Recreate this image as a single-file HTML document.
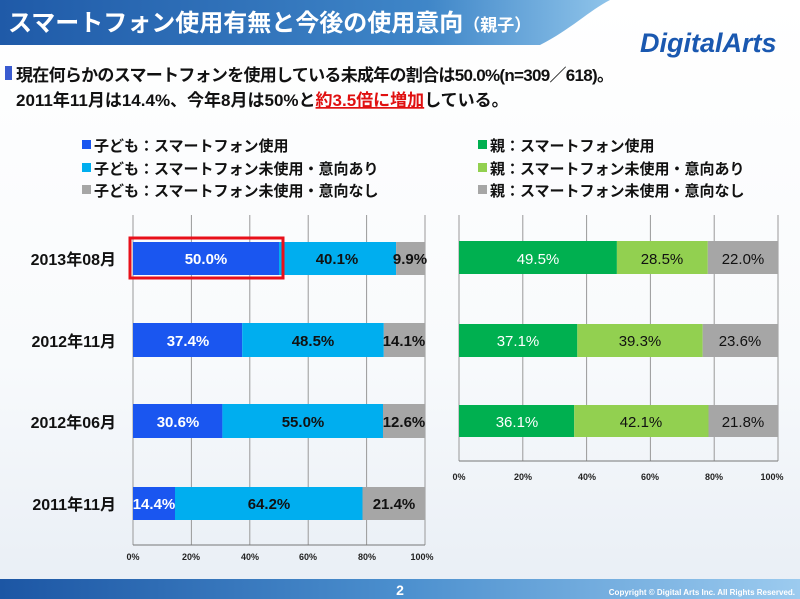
<!DOCTYPE html>
<html><head><meta charset="utf-8"><style>
body{margin:0;width:800px;height:599px;overflow:hidden;background:#fff}
svg{display:block}
text{font-family:"Liberation Sans","Noto Sans CJK JP",sans-serif}
</style></head><body>
<svg width="800" height="599" viewBox="0 0 800 599">
<defs>
<linearGradient id="hd" x1="0" x2="1" y1="0" y2="0"><stop offset="0" stop-color="#1f5aa8"/><stop offset="0.7" stop-color="#3f86c8"/><stop offset="1" stop-color="#8fc4ea"/></linearGradient>
<linearGradient id="ft" x1="0" x2="1"><stop offset="0" stop-color="#1c56a4"/><stop offset="0.5" stop-color="#4b8fce"/><stop offset="1" stop-color="#9ccbef"/></linearGradient>
<linearGradient id="bg" x1="0" x2="0" y1="0" y2="1"><stop offset="0" stop-color="#fff"/><stop offset="0.6" stop-color="#f8fafc"/><stop offset="1" stop-color="#e8eef5"/></linearGradient>
</defs>
<rect width="800" height="599" fill="url(#bg)"/>
<path d="M0 0H610C590 10 570 30 540 45H0Z" fill="url(#hd)"/>
<text x="8" y="31" font-size="24" font-weight="bold" fill="#fff">スマートフォン使用有無と今後の使用意向<tspan font-size="17">（親子）</tspan></text>
<text x="640" y="52" font-size="27" font-weight="bold" font-style="italic" fill="#1a58b0">DigitalArts</text>
<rect x="5" y="66" width="7" height="14" fill="#3a5bd0"/>
<text x="16" y="81" font-size="17" font-weight="bold" fill="#111" textLength="598">現在何らかのスマートフォンを使用している未成年の割合は50.0%(n=309／618)。</text>
<text x="16" y="106" font-size="17" font-weight="bold" fill="#111">2011年11月は14.4%、今年8月は50%と<tspan fill="#e01010" text-decoration="underline">約3.5倍に増加</tspan>している。</text>
<!-- legends -->
<g font-size="15" font-weight="bold" fill="#111">
<rect x="82" y="140" width="9" height="9" fill="#1a56f0"/><text x="94" y="151">子ども：スマートフォン使用</text>
<rect x="82" y="163" width="9" height="9" fill="#00aeef"/><text x="94" y="174">子ども：スマートフォン未使用・意向あり</text>
<rect x="82" y="185" width="9" height="9" fill="#a6a6a6"/><text x="94" y="196">子ども：スマートフォン未使用・意向なし</text>
<rect x="478" y="140" width="9" height="9" fill="#00b050"/><text x="490" y="151">親：スマートフォン使用</text>
<rect x="478" y="163" width="9" height="9" fill="#92d050"/><text x="490" y="174">親：スマートフォン未使用・意向あり</text>
<rect x="478" y="185" width="9" height="9" fill="#a6a6a6"/><text x="490" y="196">親：スマートフォン未使用・意向なし</text>
</g>
<g stroke="#999" stroke-width="1">
<line x1="133" y1="215" x2="133" y2="545"/><line x1="191.4" y1="215" x2="191.4" y2="545"/><line x1="249.8" y1="215" x2="249.8" y2="545"/><line x1="308.2" y1="215" x2="308.2" y2="545"/><line x1="366.6" y1="215" x2="366.6" y2="545"/><line x1="425" y1="215" x2="425" y2="545"/>
<line x1="133" y1="545" x2="425" y2="545" stroke="#777"/>
<line x1="459" y1="215" x2="459" y2="461"/><line x1="522.8" y1="215" x2="522.8" y2="461"/><line x1="586.6" y1="215" x2="586.6" y2="461"/><line x1="650.4" y1="215" x2="650.4" y2="461"/><line x1="714.2" y1="215" x2="714.2" y2="461"/><line x1="778" y1="215" x2="778" y2="461"/>
<line x1="459" y1="461" x2="778" y2="461" stroke="#777"/>
</g>
<g font-size="9" font-weight="bold" fill="#222" text-anchor="middle">
<text x="133" y="560">0%</text><text x="191" y="560">20%</text><text x="250" y="560">40%</text><text x="308" y="560">60%</text><text x="367" y="560">80%</text><text x="422" y="560">100%</text>
<text x="459" y="480">0%</text><text x="523" y="480">20%</text><text x="587" y="480">40%</text><text x="650" y="480">60%</text><text x="714" y="480">80%</text><text x="772" y="480">100%</text>
</g>
<g font-size="16" font-weight="bold" fill="#111" text-anchor="end">
<text x="116" y="265">2013年08月</text><text x="116" y="347">2012年11月</text><text x="116" y="428">2012年06月</text><text x="116" y="510">2011年11月</text>
</g>
<g font-size="15" font-weight="bold" text-anchor="middle">
<rect x="133" y="242" width="146" height="33" fill="#1a56f0"/><rect x="279" y="242" width="117.1" height="33" fill="#00aeef"/><rect x="396.1" y="242" width="28.9" height="33" fill="#a6a6a6"/>
<rect x="130" y="238" width="153" height="40" fill="none" stroke="#e8101a" stroke-width="3"/>
<text x="206" y="264" fill="#fff">50.0%</text><text x="337" y="264" fill="#111">40.1%</text><text x="410" y="264" fill="#111">9.9%</text>
<rect x="133" y="323" width="109.2" height="34" fill="#1a56f0"/><rect x="242.2" y="323" width="141.6" height="34" fill="#00aeef"/><rect x="383.8" y="323" width="41.2" height="34" fill="#a6a6a6"/>
<text x="188" y="346" fill="#fff">37.4%</text><text x="313" y="346" fill="#111">48.5%</text><text x="404" y="346" fill="#111">14.1%</text>
<rect x="133" y="404" width="89.4" height="34" fill="#1a56f0"/><rect x="222.4" y="404" width="160.6" height="34" fill="#00aeef"/><rect x="383" y="404" width="42" height="34" fill="#a6a6a6"/>
<text x="178" y="427" fill="#fff">30.6%</text><text x="303" y="427" fill="#111">55.0%</text><text x="404" y="427" fill="#111">12.6%</text>
<rect x="133" y="487" width="42" height="33" fill="#1a56f0"/><rect x="175" y="487" width="187.5" height="33" fill="#00aeef"/><rect x="362.5" y="487" width="62.5" height="33" fill="#a6a6a6"/>
<text x="154" y="509" fill="#fff">14.4%</text><text x="269" y="509" fill="#111">64.2%</text><text x="394" y="509" fill="#111">21.4%</text>
<rect x="459" y="241" width="157.9" height="33" fill="#00b050"/><rect x="616.9" y="241" width="90.9" height="33" fill="#92d050"/><rect x="707.8" y="241" width="70.2" height="33" fill="#a6a6a6"/>
<text x="538" y="264" fill="#fff" font-weight="normal">49.5%</text><text x="662" y="264" fill="#111" font-weight="normal">28.5%</text><text x="743" y="264" fill="#111" font-weight="normal">22.0%</text>
<rect x="459" y="324" width="118.3" height="33" fill="#00b050"/><rect x="577.3" y="324" width="125.4" height="33" fill="#92d050"/><rect x="702.7" y="324" width="75.3" height="33" fill="#a6a6a6"/>
<text x="518" y="346" fill="#fff" font-weight="normal">37.1%</text><text x="640" y="346" fill="#111" font-weight="normal">39.3%</text><text x="740" y="346" fill="#111" font-weight="normal">23.6%</text>
<rect x="459" y="405" width="115.2" height="32" fill="#00b050"/><rect x="574.2" y="405" width="134.3" height="32" fill="#92d050"/><rect x="708.5" y="405" width="69.5" height="32" fill="#a6a6a6"/>
<text x="517" y="427" fill="#fff" font-weight="normal">36.1%</text><text x="641" y="427" fill="#111" font-weight="normal">42.1%</text><text x="743" y="427" fill="#111" font-weight="normal">21.8%</text>
</g>
<rect x="0" y="579" width="800" height="20" fill="url(#ft)"/>
<text x="400" y="595" font-size="14" font-weight="bold" fill="#fff" text-anchor="middle">2</text>
<text x="795" y="595" font-size="8" font-weight="bold" fill="#fff" text-anchor="end">Copyright © Digital Arts Inc. All Rights Reserved.</text>
</svg>
</body></html>
